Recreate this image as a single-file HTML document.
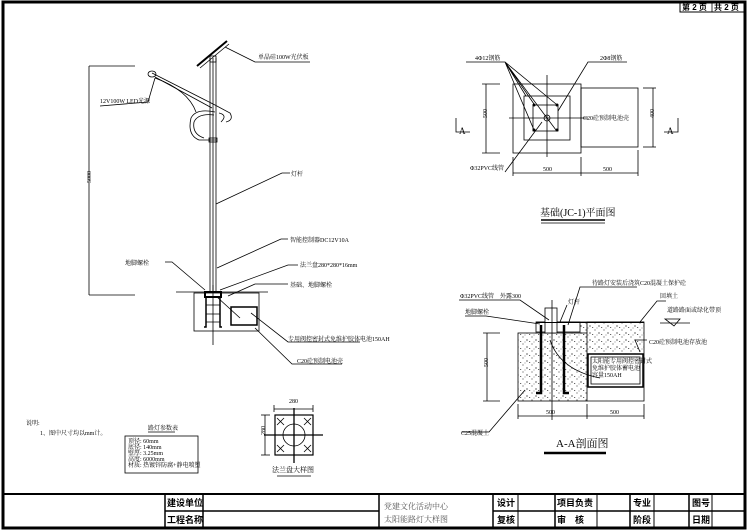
<!DOCTYPE html>
<html><head><meta charset="utf-8"><style>
html,body{margin:0;padding:0;background:#fff;}
svg{display:block;font-family:"Liberation Serif","Noto Serif CJK SC","Noto Sans CJK SC",serif;}
.t{font-size:6px;fill:#000;}
.b{font-weight:bold;font-size:9px;font-family:"Liberation Sans","Noto Sans CJK SC",sans-serif;}
</style></head><body>
<svg width="749" height="530" viewBox="0 0 749 530" xmlns="http://www.w3.org/2000/svg">
<defs>
<pattern id="dots" width="9" height="7" patternUnits="userSpaceOnUse">
<circle cx="1" cy="1" r="0.5" fill="#000"/><circle cx="5" cy="4" r="0.6" fill="#000"/><rect x="7" y="5" width="1.2" height="0.6" fill="#000"/><circle cx="3" cy="6" r="0.4" fill="#000"/>
</pattern>
</defs>
<rect x="518" y="333" width="69" height="68" fill="url(#dots)"/>
<rect x="580" y="323" width="64" height="31" fill="url(#dots)"/>
<g fill="none" stroke="#000" stroke-width="0.8">
<rect x="3" y="2" width="742" height="526" stroke-width="3"/>
<rect x="680" y="2" width="65" height="10" stroke-width="1"/>
<line x1="712" y1="2" x2="712" y2="12"/>
<line x1="3" y1="494" x2="745" y2="494" stroke-width="2"/>
<line x1="165" y1="511" x2="379" y2="511" stroke-width="1.5"/>
<line x1="493" y1="511" x2="745" y2="511" stroke-width="1.5"/>
<line x1="165" y1="494" x2="165" y2="528" stroke-width="1.5"/>
<line x1="203" y1="494" x2="203" y2="528" stroke-width="1.5"/>
<line x1="379" y1="494" x2="379" y2="528" stroke-width="1.5"/>
<line x1="493" y1="494" x2="493" y2="528" stroke-width="1.5"/>
<line x1="518" y1="494" x2="518" y2="528" stroke-width="1"/>
<line x1="555" y1="494" x2="555" y2="528" stroke-width="1.5"/>
<line x1="597" y1="494" x2="597" y2="528" stroke-width="1"/>
<line x1="630" y1="494" x2="630" y2="528" stroke-width="1.5"/>
<line x1="654" y1="494" x2="654" y2="528" stroke-width="1"/>
<line x1="689" y1="494" x2="689" y2="528" stroke-width="1.5"/>
<line x1="712" y1="494" x2="712" y2="528" stroke-width="1"/>

<line x1="89" y1="66" x2="89" y2="295"/>
<line x1="89" y1="66" x2="135" y2="66"/>
<line x1="89" y1="295" x2="135" y2="295"/>
<line x1="210" y1="58" x2="210" y2="293"/>
<line x1="213" y1="58" x2="213" y2="293"/>
<line x1="216" y1="58" x2="216" y2="293"/>
<line x1="197" y1="66" x2="227" y2="41" stroke-width="2"/>
<line x1="200" y1="68" x2="229" y2="44"/>
<rect x="210" y="56" width="6" height="6"/>
<path d="M152 73 L215 105 L230 113 Q234 120 226 122"/>
<path d="M155 77 L212 108"/>
<path d="M155 78 Q188 90 196 112"/>
<path d="M215 112 Q196 108 191 118 Q187 135 199 140 L216 140"/>
<path d="M214 115 Q198 113 194 122 Q192 134 204 138"/>
<path d="M219 113 Q228 115 221 122"/>
<ellipse cx="152" cy="74" rx="4" ry="3"/>
<rect x="209" y="138" width="8" height="4"/>
<path d="M225 47 L255 62 L310 62"/>
<path d="M155 78 L148 102 L100 106"/>
<path d="M216 204 L282 173 L290 173"/>
<path d="M217 268 L281 239 L288 239"/>
<path d="M165 262 L172 262 L205 290"/>
<path d="M220 290 L288 265 L298 265"/>
<path d="M228 296 L255 284 L288 284"/>
<path d="M217 297 L240 318"/>
<path d="M251 313 L288 342 L360 342"/>
<path d="M255 328 L292 364 L342 364"/>
<line x1="176" y1="292" x2="268" y2="292"/>
<rect x="194" y="293" width="65" height="38"/>
<rect x="231" y="307" width="26" height="18" stroke-width="1.5"/>
<line x1="213" y1="285" x2="213" y2="345"/>
<rect x="205" y="292" width="16" height="5" stroke-width="2"/>
<path d="M206 296 L206 327 L204 327 M220 296 L220 327 L222 327" stroke-width="1.5"/>
<path d="M206 305 L220 305 M206 314 L220 314 M206 322 L220 322"/>

<rect x="275" y="415" width="38" height="40" stroke-width="1.2"/>
<circle cx="294" cy="435" r="11"/>
<line x1="264" y1="435" x2="323" y2="435" stroke-width="1.3"/>
<line x1="294" y1="408" x2="294" y2="463" stroke-width="1.3"/>
<line x1="274" y1="405" x2="274" y2="412"/><line x1="313" y1="405" x2="313" y2="412"/>
<line x1="274" y1="409" x2="313" y2="409"/>
<line x1="261" y1="415" x2="270" y2="415"/><line x1="261" y1="455" x2="270" y2="455"/>
<line x1="265" y1="415" x2="265" y2="455"/>
<line x1="277" y1="418" x2="284" y2="425"/><line x1="284" y1="418" x2="277" y2="425"/>
<line x1="304" y1="418" x2="311" y2="425"/><line x1="311" y1="418" x2="304" y2="425"/>
<line x1="277" y1="445" x2="284" y2="452"/><line x1="284" y1="445" x2="277" y2="452"/>
<line x1="304" y1="445" x2="311" y2="452"/><line x1="311" y1="445" x2="304" y2="452"/>
<line x1="277" y1="476" x2="311" y2="476"/>
<line x1="148" y1="432" x2="175" y2="432"/>
<rect x="125" y="436" width="73" height="37"/>

<rect x="513" y="84" width="68" height="69"/>
<rect x="524" y="96" width="46" height="44"/>
<rect x="533" y="105" width="25" height="26"/>
<rect x="581" y="88" width="57" height="59"/>
<circle cx="547" cy="118" r="3"/>
<line x1="547" y1="75" x2="547" y2="157"/>
<line x1="509" y1="118" x2="588" y2="118"/>
<line x1="486" y1="84" x2="486" y2="153"/>
<line x1="482" y1="84" x2="500" y2="84"/><line x1="482" y1="153" x2="500" y2="153"/>
<line x1="653" y1="88" x2="653" y2="147"/>
<line x1="643" y1="88" x2="656" y2="88"/><line x1="643" y1="147" x2="656" y2="147"/>
<line x1="513" y1="173" x2="638" y2="173"/>
<line x1="513" y1="157" x2="513" y2="176"/><line x1="581" y1="157" x2="581" y2="176"/><line x1="638" y1="150" x2="638" y2="176"/>
<path d="M456 118 L456 132 L470 132"/>
<path d="M678 118 L678 132 L664 132"/>
<path d="M466 62 L505 62 L534 104 M505 62 L556 104 M505 62 L534 130 M505 62 L556 130 M505 62 L526 96"/>
<path d="M627 62 L588 62 L558 111"/>
<path d="M505 172 L542 122"/>
<line x1="541" y1="220" x2="605" y2="220" stroke-width="1.5"/>
<line x1="541" y1="223" x2="605" y2="223"/>

<rect x="518" y="333" width="69" height="68"/>
<path d="M587 333 L587 322 L644 322 L644 401 L587 401"/>
<line x1="536" y1="322" x2="644" y2="322"/>
<rect x="536" y="322" width="44" height="10" fill="#fff"/>
<rect x="545" y="308" width="12" height="25" fill="#fff"/>
<rect x="588" y="354" width="55" height="33" stroke-width="1.5" fill="#fff"/>
<rect x="591" y="357" width="49" height="27"/>
<path d="M541 325 L541 393 L536 393" stroke-width="2.5"/>
<path d="M564 325 L564 393 L569 393" stroke-width="2.5"/>
<line x1="552" y1="300" x2="552" y2="420"/>
<path d="M550 340 Q560 370 600 378"/>
<line x1="487" y1="333" x2="487" y2="401"/>
<line x1="483" y1="333" x2="500" y2="333"/><line x1="483" y1="401" x2="500" y2="401"/>
<line x1="518" y1="416" x2="644" y2="416"/>
<line x1="518" y1="404" x2="518" y2="419"/><line x1="587" y1="404" x2="587" y2="419"/><line x1="644" y1="404" x2="644" y2="419"/>
<path d="M459 300 L520 300 L549 320"/>
<path d="M465 316 L486 316 L540 324"/>
<path d="M567 305 L560 322"/>
<path d="M637 287 L580 287 L568 325"/>
<path d="M666 301 L657 301 L640 322"/>
<path d="M665 319 L680 319 L674 326 Z"/>
<path d="M690 323 L660 323"/>
<path d="M647 340 L635 340 L640 352"/>
<path d="M462 432 L489 432 L525 390"/>
<line x1="544" y1="453" x2="606" y2="453" stroke-width="2.5"/>
</g>
<g fill="#000" stroke="none">
<circle cx="534" cy="105" r="1.5"/><circle cx="557" cy="105" r="1.5"/><circle cx="534" cy="130" r="1.5"/><circle cx="557" cy="130" r="1.5"/>
<rect x="536" y="322" width="108" height="1"/>
</g>
<g class="t">
<text x="258" y="59">单晶硅100W光伏板</text>
<text x="100" y="103">12V100W LED光源</text>
<text x="291" y="176">灯杆</text>
<text x="290" y="242">智能控制器DC12V10A</text>
<text x="125" y="265">地脚螺栓</text>
<text x="300" y="267">法兰盘280*280*16mm</text>
<text x="290" y="287">基础、地脚螺栓</text>
<text x="288" y="341">专用阀控密封式免维护胶体电池150AH</text>
<text x="297" y="363">C20砼预制电池壳</text>
<text x="88" y="186" transform="rotate(-90 88 183)">5000</text>
<text x="289" y="403">280</text>
<text x="262" y="438" transform="rotate(-90 262 435)">280</text>
<text x="272" y="472" font-size="7">法兰盘大样图</text>
<text x="26" y="425">说明:</text>
<text x="40" y="435">1、图中尺寸均以mm计。</text>
<text x="148" y="430">路灯参数表</text>
<text x="128" y="443">顶径: 60mm</text>
<text x="128" y="449">底径: 140mm</text>
<text x="128" y="455">壁厚: 3.25mm</text>
<text x="128" y="461">高度: 6000mm</text>
<text x="128" y="467">材质: 热镀锌防腐+静电喷塑</text>
<text x="475" y="60">4Φ12钢筋</text>
<text x="600" y="60">2Φ8钢筋</text>
<text x="470" y="170">Φ32PVC线管</text>
<text x="583" y="120">C20砼预制电池壳</text>
<text x="484" y="121" transform="rotate(-90 484 118)">500</text>
<text x="651" y="121" transform="rotate(-90 651 118)">400</text>
<text x="543" y="171">500</text>
<text x="603" y="171">500</text>
<text x="459" y="134" font-size="9">A</text>
<text x="667" y="134" font-size="9">A</text>
<text x="540" y="216" font-size="10">基础(JC-1)平面图</text>
<text x="460" y="298">Φ32PVC线管　外露300</text>
<text x="465" y="314">地脚螺栓</text>
<text x="568" y="304">灯杆</text>
<text x="592" y="285">待路灯安装后浇筑C20混凝土保护砼</text>
<text x="660" y="298">回填土</text>
<text x="667" y="312">道路路面或绿化带顶</text>
<text x="649" y="344">C20砼预制电池存放池</text>
<text x="592" y="363">太阳能专用阀控密封式</text>
<text x="592" y="370">免维护胶体蓄电池</text>
<text x="592" y="377">容量150AH</text>
<text x="485" y="370" transform="rotate(-90 485 367)">500</text>
<text x="546" y="414">500</text>
<text x="610" y="414">500</text>
<text x="461" y="435">C25混凝土</text>
<text x="556" y="447" font-size="11">A-A剖面图</text>
<text x="384" y="509" font-size="8" fill="#555">党建文化活动中心</text>
<text x="384" y="522" font-size="8" fill="#555">太阳能路灯大样图</text>
</g>
<g class="b">
<text x="167" y="506">建设单位</text>
<text x="167" y="523">工程名称</text>
<text x="497" y="506">设计</text>
<text x="497" y="523">复核</text>
<text x="557" y="506">项目负责</text>
<text x="557" y="523">审　核</text>
<text x="633" y="506">专业</text>
<text x="633" y="523">阶段</text>
<text x="692" y="506">图号</text>
<text x="692" y="523">日期</text>
<text x="682" y="10" font-size="8">第 2 页</text>
<text x="714" y="10" font-size="8">共 2 页</text>
</g>
</svg>
</body></html>
